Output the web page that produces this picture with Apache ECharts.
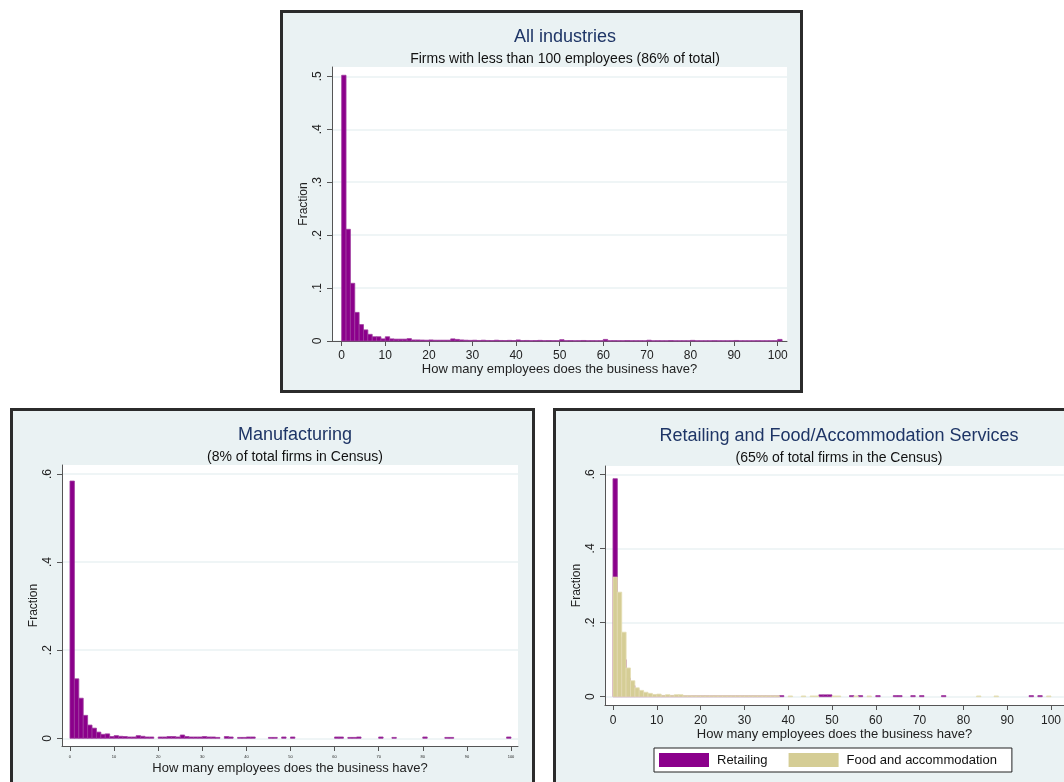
<!DOCTYPE html>
<html>
<head>
<meta charset="utf-8">
<script src="https://cdn.jsdelivr.net/npm/echarts@6/dist/echarts.min.js"></script>
<style>
  html, body { margin: 0; padding: 0; background: #ffffff; overflow: hidden; }
  #wrap { position: relative; width: 1064px; height: 782px; overflow: hidden; }
  .panel { position: absolute; box-sizing: border-box; background: #EAF2F3; border: 3px solid #2b2b2b; }
  #chart { position: absolute; left: 0; top: 0; width: 1064px; height: 782px; }
</style>
</head>
<body>
<div id="wrap">
  <div class="panel" style="left:280px; top:10px; width:523px; height:383px;"></div>
  <div class="panel" style="left:10px; top:408px; width:525px; height:400px;"></div>
  <div class="panel" style="left:553px; top:408px; width:520px; height:400px;"></div>
  <div id="chart"></div>
</div>
<script>
// ---------------- DATA ----------------
// bin left edges (employees), each bin is one employee wide
const bins = [0,1,2,3,4,5,6,7,8,9,10,11,12,13,14,15,16,17,18,19,20,21,22,23,24,25,26,27,28,29,
  30,31,32,33,34,35,36,37,38,39,40,41,42,43,44,45,46,47,48,49,50,51,52,53,54,55,56,57,58,59,
  60,61,62,63,64,65,66,67,68,69,70,71,72,73,74,75,76,77,78,79,80,81,82,83,84,85,86,87,88,89,
  90,91,92,93,94,95,96,97,98,99,100];
const binWidth = 1;

// All industries (fraction per bin)
const allIndustries = [0.502,0.211,0.109,0.054,0.031,0.021,0.0126,0.008,0.008,0.004,
  0.008,0.004,0.0035,0.0035,0.0035,0.0045,0.002,0.002,0.0018,0.0015,
  0.002,0.0015,0.0015,0.0015,0.0015,0.004,0.003,0.002,0.0015,0.0012,
  0.0015,0.001,0.0015,0.001,0.0008,0.0015,0.001,0.0008,0.0012,0.0008,
  0.002,0.0008,0.001,0.0006,0.0008,0.0012,0.0006,0.0008,0.0006,0.0006,
  0.0025,0.0006,0.0008,0.0005,0.0006,0.001,0.0005,0.0006,0.0005,0.0005,
  0.003,0.0005,0.0006,0.0005,0.0005,0.0008,0.0005,0.0005,0.0005,0.0004,
  0.0015,0.0004,0.0005,0.0004,0.0004,0.0008,0.0004,0.0004,0.0004,0.0004,
  0.0012,0.0004,0.0004,0.0004,0.0004,0.0006,0.0004,0.0004,0.0004,0.0004,
  0.001,0.0004,0.0004,0.0004,0.0004,0.0005,0.0004,0.0004,0.0004,0.0004,
  0.003];

// Manufacturing
const manufacturing = [0.584,0.135,0.091,0.052,0.030,0.023,0.014,0.009,0.010,0.004,
  0.006,0.0045,0.004,0.003,0.003,0.006,0.0045,0.003,0.003,0,
  0.003,0.003,0.004,0.004,0.003,0.0075,0.004,0.003,0.003,0.003,
  0.004,0.003,0.003,0.002,0,0.004,0.003,0,0.002,0.002,
  0.003,0.003,0,0,0,0.002,0.002,0,0.003,0,
  0.003,0,0,0,0,0,0,0,0,0,
  0.003,0.003,0,0.002,0.002,0.003,0,0,0,0,
  0.003,0,0,0.002,0,0,0,0,0,0,
  0.003,0,0,0,0,0.002,0.002,0,0,0,
  0,0,0,0,0,0,0,0,0,0.003,
  0];

// Retailing
const retailing = [0.588,0.16,0.10,0.05,0.03,0.018,0.012,0.008,0.006,0.004,
  0.004,0.003,0.003,0.003,0.003,0.003,0.002,0.002,0.002,0.002,
  0.002,0.002,0.002,0.002,0.002,0.002,0.002,0.002,0.002,0.002,
  0.002,0.002,0.002,0.002,0.002,0.002,0.002,0.002,0.003,0,
  0,0,0,0,0,0,0,0.005,0.005,0.005,
  0,0,0,0,0.003,0,0.003,0,0,0,
  0.003,0,0,0,0.003,0.003,0,0,0.003,0,
  0.003,0,0,0,0,0.003,0,0,0,0,
  0,0,0,0,0,0,0,0,0,0,
  0,0,0,0,0,0.003,0,0.003,0,0,
  0];

// Food and accommodation
const foodAccommodation = [0.3225,0.282,0.174,0.0775,0.043,0.024,0.017,0.012,0.009,0.006,
  0.007,0.0036,0.0054,0.0036,0.0054,0.0054,0.0027,0.0027,0.0025,0.0025,
  0.0025,0.0025,0.0025,0.0025,0.0025,0.0025,0.0025,0.0025,0.0025,0.0025,
  0.0025,0.0025,0.0025,0.0025,0.0025,0.0025,0.0025,0.0025,0,0,
  0.002,0,0,0.002,0,0.002,0.002,0,0,0,
  0.002,0.002,0,0,0,0.002,0,0,0.002,0,
  0,0,0,0,0,0,0,0,0,0,
  0,0,0,0,0,0,0,0,0,0,
  0,0,0,0.002,0,0,0,0.002,0,0,
  0,0,0,0,0,0,0,0,0,0.002,
  0];

const xTicks = [0,10,20,30,40,50,60,70,80,90,100];
const yTicksTop = [0,0.1,0.2,0.3,0.4,0.5];
const yTicksBottom = [0,0.2,0.4,0.6];

const titles = ['All industries', 'Manufacturing', 'Retailing and Food/Accommodation Services'];
const subtitles = ['Firms with less than 100 employees (86% of total)', '(8% of total firms in Census)', '(65% of total firms in the Census)'];
const xName = 'How many employees does the business have?';
const yName = 'Fraction';
const seriesNames = ['Retailing', 'Food and accommodation'];

// ---------------- CHART ----------------
const FONT = '"Liberation Sans", Arial, Helvetica, sans-serif';
const PURPLE = '#8B008B';
const PURPLE_EDGE = '#9E3A9E';
const TAN = '#D5CD95';
const TAN_EDGE = '#E4DEB4';
const GRIDC = '#EAF2F3';
const AXC = '#555555';

function tickFmt(v) {
  if (v === 0) return '0';
  return String(+v.toFixed(2)).replace(/^0/, '');
}

function toData(values) {
  return bins.map((b, i) => [b, b + binWidth, values[i]]);
}

function barSeries(name, values, xi, fill, edge, z) {
  return {
    type: 'custom',
    name: name,
    xAxisIndex: xi, yAxisIndex: xi,
    z: z,
    itemStyle: { color: fill },
    encode: { x: [0, 1], y: 2 },
    data: toData(values),
    renderItem: function (params, api) {
      const v = api.value(2);
      if (!v) return null;
      const p0 = api.coord([api.value(0), 0]);
      const p1 = api.coord([api.value(1), v]);
      return {
        type: 'rect',
        shape: { x: p0[0], y: p1[1], width: p1[0] - p0[0], height: p0[1] - p1[1] },
        style: { fill: fill, stroke: edge, lineWidth: 0.8 }
      };
    }
  };
}

function xAxisDef(gi, min, max, labelSize, labelMargin, nameGap) {
  return {
    type: 'value', gridIndex: gi, min: min, max: max,
    name: xName, nameLocation: 'middle', nameGap: nameGap,
    nameTextStyle: { fontFamily: FONT, fontSize: 13, color: '#222' },
    axisLine: { show: true, onZero: false, lineStyle: { color: AXC, width: 1 } },
    axisTick: { show: true, length: 5, customValues: xTicks, lineStyle: { color: AXC } },
    axisLabel: { customValues: xTicks, fontFamily: FONT, fontSize: labelSize, color: '#222', margin: labelMargin, hideOverlap: false, showMinLabel: true, showMaxLabel: true },
    splitLine: { show: false }
  };
}

function yAxisDef(gi, min, max, ticks) {
  return {
    type: 'value', gridIndex: gi, min: min, max: max,
    name: yName, nameLocation: 'middle', nameGap: 22,
    nameTextStyle: { fontFamily: FONT, fontSize: 12, color: '#222' },
    axisLine: { show: true, onZero: false, lineStyle: { color: AXC, width: 1 } },
    axisTick: { show: true, length: 5, customValues: ticks, lineStyle: { color: AXC } },
    axisLabel: { customValues: ticks, rotate: 90, formatter: tickFmt, fontFamily: FONT, fontSize: 12, color: '#222', margin: 8 },
    splitLine: { show: true, lineStyle: { color: GRIDC, width: 1.5 } }
  };
}

function titleDef(text, cx, top, size, color) {
  return { text: text, left: cx, top: top, textAlign: 'center',
    textStyle: { fontFamily: FONT, fontSize: size, fontWeight: 'normal', color: color } };
}

const chart = echarts.init(document.getElementById('chart'), null, { renderer: 'canvas' });
chart.setOption({
  animation: false,
  backgroundColor: 'transparent',
  title: [
    titleDef(titles[0], 560, 23, 18, '#1E3566'),
    titleDef(subtitles[0], 560, 47, 14, '#111'),
    titleDef(titles[1], 290, 421, 18, '#1E3566'),
    titleDef(subtitles[1], 290, 445, 14, '#111'),
    titleDef(titles[2], 834, 422, 18, '#1E3566'),
    titleDef(subtitles[2], 834, 446, 14, '#111')
  ],
  grid: [
    { left: 332, top: 67, width: 455, height: 274, show: true, backgroundColor: '#ffffff', borderWidth: 0 },
    { left: 62, top: 465, width: 456, height: 281, show: true, backgroundColor: '#ffffff', borderWidth: 0 },
    { left: 605, top: 466, width: 461, height: 239, show: true, backgroundColor: '#ffffff', borderWidth: 0 }
  ],
  xAxis: [
    xAxisDef(0, -2.22, 102.13, 12, 9, 22),
    xAxisDef(1, -1.81, 101.59, 4, 9, 16),
    xAxisDef(2, -1.82, 102.95, 12, 10, 23)
  ],
  yAxis: [
    yAxisDef(0, 0, 0.5176, yTicksTop),
    yAxisDef(1, -0.0175, 0.6204, yTicksBottom),
    yAxisDef(2, -0.0224, 0.6223, yTicksBottom)
  ],
  legend: {
    left: 654, top: 748,
    orient: 'horizontal',
    data: seriesNames,
    icon: 'rect',
    itemWidth: 50, itemHeight: 14, itemGap: 21,
    padding: [5, 15, 5, 5],
    backgroundColor: '#ffffff', borderColor: '#222', borderWidth: 1, borderRadius: 0,
    textStyle: { fontFamily: FONT, fontSize: 13, color: '#111', padding: [0, 0, 0, 3] },
    selectedMode: false
  },
  series: [
    barSeries('All industries', allIndustries, 0, PURPLE, PURPLE_EDGE, 2),
    barSeries('Manufacturing', manufacturing, 1, PURPLE, PURPLE_EDGE, 2),
    barSeries(seriesNames[0], retailing, 2, PURPLE, PURPLE_EDGE, 2),
    barSeries(seriesNames[1], foodAccommodation, 2, TAN, TAN_EDGE, 3)
  ]
});
</script>
</body>
</html>
